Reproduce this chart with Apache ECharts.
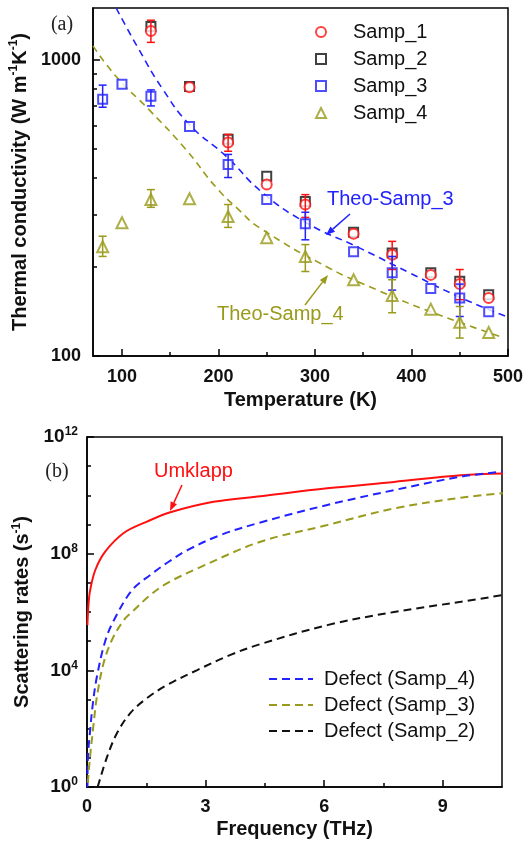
<!DOCTYPE html>
<html>
<head>
<meta charset="utf-8">
<title>Thermal conductivity / scattering rates</title>
<script src="https://cdn.jsdelivr.net/npm/echarts@6.0.0/dist/echarts.min.js"></script>
<style>html,body{margin:0;padding:0;background:#fff;}</style>
</head>
<body>
<div id="main" style="width:531px;height:842px;"></div>
<script>
// ---- (a) thermal conductivity (W m-1 K-1) vs temperature (K)
var tempAll = [80, 100, 130, 170, 210, 250, 290, 340, 380, 420, 450, 480];
var tempHi = [130, 170, 210, 250, 290, 340, 380, 420, 450, 480];
var samp1 = [1254, 810, 527, 380, 325, 259, 220, 188, 175, 157];
var samp2 = [1300, 815, 540, 405, 333, 262, 223, 191, 179, 161];
var samp3 = [738, 829, 755, 597, 444, 338, 280, 225, 191, 169, 157, 141];
var samp4 = [234, 282, 338, 340, 296, 251, 217, 181, 160, 144, 130, 120];
// error bars: [T, low, high]
var err1 = [[130, 1148, 1364], [210, 492, 561], [290, 294, 351], [380, 196, 244], [450, 155, 196]];
var err3 = [[80, 693, 823], [130, 700, 793], [210, 401, 480], [290, 247, 306], [380, 167, 217], [450, 136, 175]];
var err4 = [[80, 217, 254], [130, 318, 365], [210, 272, 325], [290, 193, 238], [380, 140, 181], [450, 115, 147]];
// dashed model curves
var theo3T = [94, 118, 142, 170, 208, 245, 291, 346, 398, 450, 498];
var theo3K = [1500, 1080, 800, 605, 473, 358, 282, 232, 191, 158, 136];
var theo4T = [70, 94, 128, 166, 198, 222, 242, 315, 363, 415, 493];
var theo4K = [1117, 880, 680, 500, 370, 310, 272, 198, 168, 143, 116];
var tempTicks = [100, 200, 300, 400, 500];
var tempMinor = [150, 250, 350, 450];
var kTicks = [100, 1000];
var kMinor = [200, 300, 400, 500, 600, 700, 800, 900];

// ---- (b) scattering rates, log10(s-1) vs frequency (THz)
var freqU = [0.01, 0.04, 0.08, 0.21, 0.46, 0.93, 1.52, 2.11, 3.2, 4.39, 6.08, 7.77, 9.46, 10.52];
var umklappLog = [5.55, 6.3, 6.75, 7.44, 8.07, 8.71, 9.1, 9.42, 9.78, 9.97, 10.24, 10.46, 10.69, 10.75];
var freqD4 = [0.012, 0.02, 0.08, 0.15, 0.25, 0.46, 0.68, 1.14, 1.6, 2.03, 2.54, 3.38, 4.39, 6.08, 7.77, 9.46, 10.52];
var defect4Log = [0, 0.93, 1.95, 2.88, 3.78, 5.0, 5.72, 6.75, 7.27, 7.69, 8.12, 8.64, 9.07, 9.67, 10.18, 10.64, 10.81];
var freqD3 = [0.02, 0.07, 0.17, 0.25, 0.42, 0.63, 0.93, 1.14, 1.6, 2.03, 2.87, 4.39, 6.08, 7.77, 9.46, 10.52];
var defect3Log = [0.14, 0.93, 2.2, 3.09, 4.25, 5.04, 5.72, 6.0, 6.58, 6.99, 7.54, 8.41, 8.98, 9.55, 9.92, 10.07];
var freqD2 = [0.27, 0.51, 0.76, 1.1, 1.52, 2.03, 2.79, 3.63, 4.39, 6.08, 7.77, 9.46, 10.52];
var defect2Log = [0, 1.04, 1.85, 2.54, 3.05, 3.5, 4.01, 4.53, 4.9, 5.55, 6.0, 6.35, 6.58];
var freqTicks = [0, 3, 6, 9];
var freqMinor = [1.5, 4.5, 7.5];
var rateTicks = [1, 1e4, 1e8, 1e12];
var rateMinor = [10, 100, 1e3, 1e5, 1e6, 1e7, 1e9, 1e10, 1e11];

var FONT = '"Liberation Sans", Arial, sans-serif';
var RED = '#ff1010', BLUE = '#2222ff', OLIVE = '#9a9a1c', BLACK = '#111';

function pairs(xs, ys) { return xs.map(function (x, i) { return [x, ys[i]]; }); }
function pow10(xs, ls) { return xs.map(function (x, i) { return [x, Math.pow(10, ls[i])]; }); }

var lineAx = { show: true, lineStyle: { color: '#000', width: 1.5 } };
function tickAx(vals, len) {
  return { show: true, inside: true, length: len, customValues: vals, lineStyle: { color: '#000', width: 1.5 } };
}
var tickFont = { fontSize: 18, fontWeight: 'bold', color: '#111', fontFamily: FONT };
var supRich = {
  b: { fontSize: 19, fontWeight: 'bold', color: '#111', fontFamily: FONT, lineHeight: 22 },
  s: { fontSize: 12, fontWeight: 'bold', color: '#111', fontFamily: FONT, lineHeight: 12, verticalAlign: 'top' }
};
var nameRich = {
  t: { fontSize: 20, fontWeight: 'bold', color: '#111', fontFamily: FONT, lineHeight: 24 },
  s: { fontSize: 12, fontWeight: 'bold', color: '#111', fontFamily: FONT, lineHeight: 12, verticalAlign: 'top' }
};

function errRender(color) {
  return function (params, api) {
    var x = api.value(0);
    var lo = api.coord([x, api.value(1)]);
    var hi = api.coord([x, api.value(2)]);
    var w = 4;
    var st = { stroke: color, lineWidth: 1.5 };
    return {
      type: 'group', children: [
        { type: 'line', shape: { x1: lo[0], y1: lo[1], x2: hi[0], y2: hi[1] }, style: st },
        { type: 'line', shape: { x1: lo[0] - w, y1: lo[1], x2: lo[0] + w, y2: lo[1] }, style: st },
        { type: 'line', shape: { x1: hi[0] - w, y1: hi[1], x2: hi[0] + w, y2: hi[1] }, style: st }
      ]
    };
  };
}
function errSeries(data, color) {
  return {
    type: 'custom', xAxisIndex: 0, yAxisIndex: 0, data: data, z: 5,
    encode: { x: 0, y: [1, 2] }, renderItem: errRender(color), silent: true
  };
}

function arrow(x1, y1, x2, y2, color) {
  var a = Math.atan2(y2 - y1, x2 - x1), L = 9, W = 3.5;
  var bx = x2 - L * Math.cos(a), by = y2 - L * Math.sin(a);
  var px = -Math.sin(a) * W, py = Math.cos(a) * W;
  return [
    { type: 'line', shape: { x1: x1, y1: y1, x2: bx, y2: by }, style: { stroke: color, lineWidth: 1.5 }, z: 20 },
    { type: 'polygon', shape: { points: [[x2, y2], [bx + px, by + py], [bx - px, by - py]] }, style: { fill: color }, z: 20 }
  ];
}
function label(text, x, y, color, font, align) {
  return {
    type: 'text', z: 20,
    style: { text: text, x: x, y: y, fill: color, font: font, textAlign: align || 'left', textVerticalAlign: 'middle' }
  };
}
function curve(name, xs, ls, color, dash) {
  return {
    name: name, type: 'line', xAxisIndex: 2, yAxisIndex: 2, data: pow10(xs, ls),
    symbol: 'none', smooth: 0.35, itemStyle: { color: color },
    lineStyle: { color: color, width: 2, type: dash ? [8, 5] : 'solid' }
  };
}

var chart = echarts.init(document.getElementById('main'));

var option = {
  backgroundColor: '#fff',
  animation: false,
  grid: [
    { left: 93, top: 8, width: 415, height: 348, show: true, borderColor: '#000', borderWidth: 1.5, outerBoundsMode: 'none' },
    { left: 87, top: 437, width: 415, height: 350, show: true, borderColor: '#000', borderWidth: 1.5, outerBoundsMode: 'none' }
  ],
  xAxis: [
    {
      gridIndex: 0, type: 'value', min: 70, max: 500, position: 'bottom',
      axisLine: lineAx, axisTick: tickAx(tempTicks, 7), splitLine: { show: false },
      axisLabel: Object.assign({ customValues: tempTicks, margin: 12 }, tickFont),
      name: 'Temperature (K)', nameLocation: 'middle', nameGap: 34,
      nameTextStyle: { fontSize: 20, fontWeight: 'bold', color: '#111', fontFamily: FONT }
    },
    {
      gridIndex: 0, type: 'value', min: 70, max: 500, position: 'bottom',
      axisLine: { show: false }, axisTick: tickAx(tempMinor, 4), axisLabel: { show: false }, splitLine: { show: false }
    },
    {
      gridIndex: 1, type: 'value', min: 0, max: 10.5, position: 'bottom',
      axisLine: lineAx, axisTick: tickAx(freqTicks, 7), splitLine: { show: false },
      axisLabel: Object.assign({ customValues: freqTicks, margin: 11 }, tickFont),
      name: 'Frequency (THz)', nameLocation: 'middle', nameGap: 32,
      nameTextStyle: { fontSize: 20, fontWeight: 'bold', color: '#111', fontFamily: FONT }
    },
    {
      gridIndex: 1, type: 'value', min: 0, max: 10.5, position: 'bottom',
      axisLine: { show: false }, axisTick: tickAx(freqMinor, 4), axisLabel: { show: false }, splitLine: { show: false }
    }
  ],
  yAxis: [
    {
      gridIndex: 0, type: 'log', logBase: 10, min: 100, max: 1500, position: 'left',
      axisLine: lineAx, axisTick: tickAx(kTicks, 7), splitLine: { show: false },
      axisLabel: Object.assign({
        customValues: kTicks, margin: 12,
        formatter: function (v) { return String(Math.round(v)); }
      }, tickFont),
      name: '{t|Thermal conductivity (W m}{s|-1}{t|K}{s|-1}{t|)}',
      nameLocation: 'middle', nameGap: 56, nameTextStyle: { rich: nameRich }
    },
    {
      gridIndex: 0, type: 'log', logBase: 10, min: 100, max: 1500, position: 'left',
      axisLine: { show: false }, axisTick: tickAx(kMinor, 4), axisLabel: { show: false }, splitLine: { show: false }
    },
    {
      gridIndex: 1, type: 'log', logBase: 10, min: 1, max: 1e12, position: 'left',
      axisLine: lineAx, axisTick: tickAx(rateTicks, 7), splitLine: { show: false },
      axisLabel: {
        customValues: rateTicks, margin: 9, rich: supRich,
        formatter: function (v) { return '{b|10}{s|' + Math.round(Math.log10(v)) + '}'; }
      },
      name: '{t|Scattering rates (s}{s|-1}{t|)}',
      nameLocation: 'middle', nameGap: 51, nameTextStyle: { rich: nameRich }
    },
    {
      gridIndex: 1, type: 'log', logBase: 10, min: 1, max: 1e12, position: 'left',
      axisLine: { show: false }, axisTick: tickAx(rateMinor, 4), axisLabel: { show: false }, splitLine: { show: false }
    }
  ],
  legend: [
    {
      data: ['Samp_1', 'Samp_2', 'Samp_3', 'Samp_4'], orient: 'vertical', left: 315, top: 22, padding: 0,
      itemWidth: 10, itemHeight: 10, itemGap: 7,
      textStyle: { fontSize: 20, lineHeight: 20, color: '#111', fontFamily: FONT, padding: [0, 0, 0, 22] }
    },
    {
      data: ['Defect (Samp_4)', 'Defect (Samp_3)', 'Defect (Samp_2)'], orient: 'vertical', left: 268, top: 669, padding: 0,
      itemWidth: 44, itemHeight: 10, itemGap: 6, itemStyle: { opacity: 0 },
      textStyle: { fontSize: 20, lineHeight: 20, color: '#111', fontFamily: FONT, padding: [0, 0, 0, 6] }
    }
  ],
  series: [
    {
      name: 'Theo-Samp_3', type: 'line', xAxisIndex: 0, yAxisIndex: 0, data: pairs(theo3T, theo3K),
      symbol: 'none', smooth: true, lineStyle: { color: BLUE, width: 1.6, type: [7, 5] }, z: 2
    },
    {
      name: 'Theo-Samp_4', type: 'line', xAxisIndex: 0, yAxisIndex: 0, data: pairs(theo4T, theo4K),
      symbol: 'none', smooth: true, lineStyle: { color: OLIVE, width: 1.6, type: [7, 5] }, z: 2
    },
    {
      name: 'Samp_2', type: 'scatter', xAxisIndex: 0, yAxisIndex: 0, data: pairs(tempHi, samp2),
      symbol: 'emptyRect', symbolSize: 9, itemStyle: { color: BLACK, borderWidth: 1.5 }, z: 3
    },
    {
      name: 'Samp_1', type: 'scatter', xAxisIndex: 0, yAxisIndex: 0, data: pairs(tempHi, samp1),
      symbol: 'emptyCircle', symbolSize: 10, itemStyle: { color: RED, borderWidth: 1.5 }, z: 4
    },
    {
      name: 'Samp_3', type: 'scatter', xAxisIndex: 0, yAxisIndex: 0, data: pairs(tempAll, samp3),
      symbol: 'emptyRect', symbolSize: 9, itemStyle: { color: BLUE, borderWidth: 1.5 }, z: 4
    },
    {
      name: 'Samp_4', type: 'scatter', xAxisIndex: 0, yAxisIndex: 0, data: pairs(tempAll, samp4),
      symbol: 'emptyTriangle', symbolSize: 11, itemStyle: { color: OLIVE, borderWidth: 1.5 }, z: 4
    },
    errSeries(err1, RED),
    errSeries(err3, BLUE),
    errSeries(err4, OLIVE),
    curve('Umklapp', freqU, umklappLog, RED, false),
    curve('Defect (Samp_4)', freqD4, defect4Log, BLUE, true),
    curve('Defect (Samp_3)', freqD3, defect3Log, OLIVE, true),
    curve('Defect (Samp_2)', freqD2, defect2Log, BLACK, true)
  ],
  graphic: [
    label('(a)', 62, 25, '#222', '20px "Liberation Serif", "Times New Roman", serif', 'center'),
    label('(b)', 57, 472, '#222', '20px "Liberation Serif", "Times New Roman", serif', 'center'),
    label('Theo-Samp_3', 327, 199, BLUE, '20px ' + FONT),
    label('Theo-Samp_4', 217, 314, OLIVE, '20px ' + FONT),
    label('Umklapp', 154, 471, RED, '20px ' + FONT)
  ].concat(arrow(350, 214, 326, 235, BLUE))
   .concat(arrow(305, 305, 328, 275, OLIVE))
   .concat(arrow(182, 485, 170, 511, RED))
};

chart.setOption(option);
</script>
</body>
</html>
